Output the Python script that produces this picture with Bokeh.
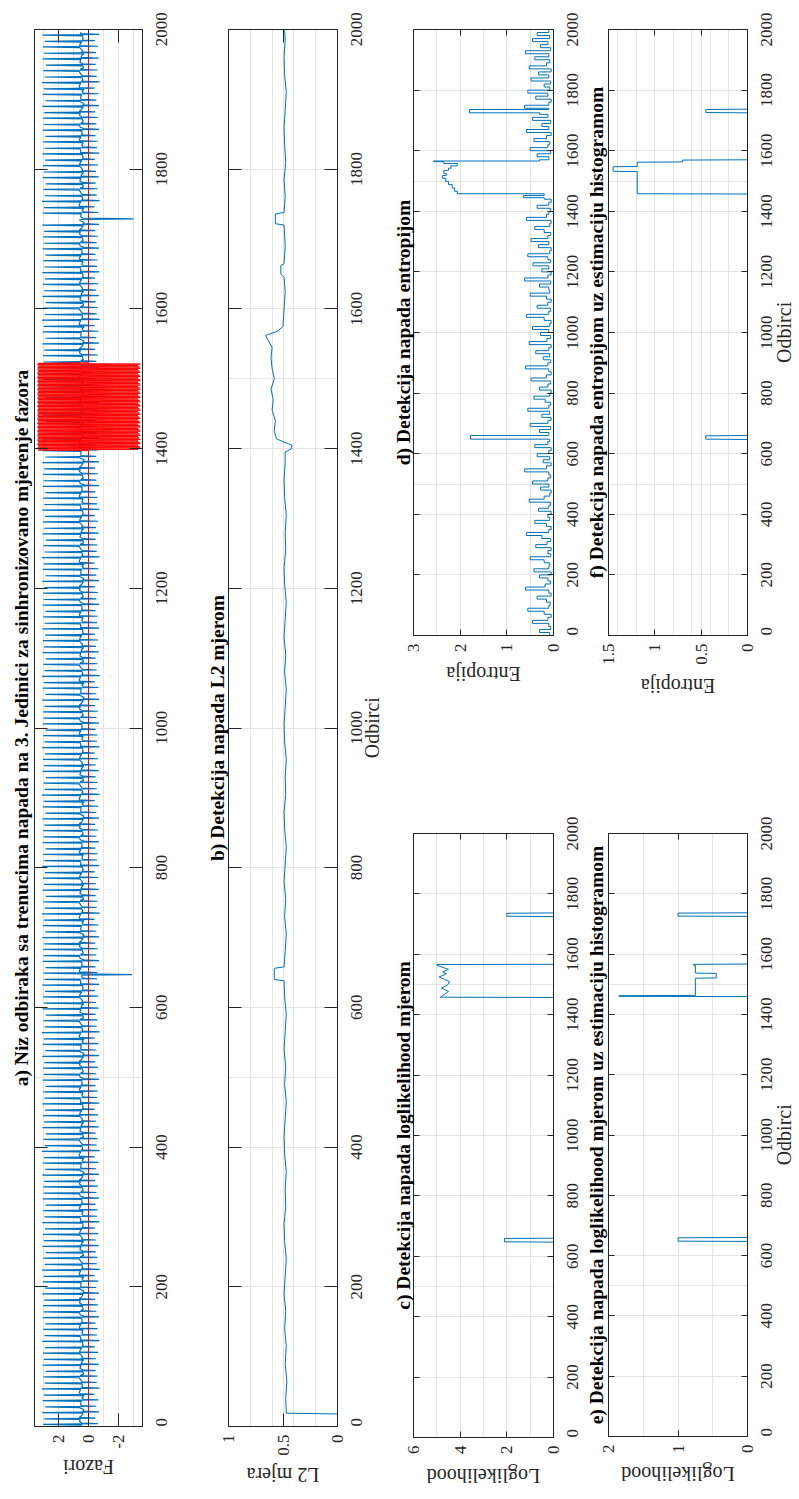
import math
from bokeh.plotting import figure
from bokeh.models import Range1d, LinearAxis, FixedTicker, Grid, Title
from bokeh.layouts import row, column
from bokeh.embed import file_html
from bokeh.resources import INLINE

SERIF = "Liberation Serif"
BLUE = "#0072BD"
RED = "#FF0000"
AX = "#262626"
GRIDC = "#e3e3e3"
TICK_FS = 17
LAB_FS = 20

odbirci_ticks = [0, 200, 400, 600, 800, 1000, 1200, 1400, 1600, 1800, 2000]

# ---------------- a) phase samples ----------------
zub_vrh = [3.02, 2.95, 3.08, 2.88, 3.05, 2.98, 3.1, 2.92, 3.0, 2.85, 3.06, 2.97, 3.03, 2.9, 3.08, 2.94,
           3.01, 2.87, 3.05, 2.99]
zub_dno = [-0.62, -0.45, -0.7, -0.52, -0.66, -0.4, -0.74, -0.55, -0.6, -0.48, -0.68, -0.5, -0.64, -0.42,
           -0.72, -0.57, -0.6, -0.47, -0.7, -0.53]
zub_sred = [0.42, 0.55, 0.35, 0.6, 0.48, 0.3, 0.52, 0.44, 0.62, 0.38, 0.5, 0.33, 0.58, 0.46, 0.4, 0.56,
            0.36, 0.5, 0.45, 0.6]
zub_period = [8, 9]
skok_odbirci = [647, 1729]
skok_vrijednost = [-2.9, -3.0]
napad_pocetak, napad_kraj = 1398, 1522
napad_vrh = [3.35, 3.28, 3.4, 3.3, 3.38, 3.25]
napad_dno = [-3.42, -3.3, -3.38, -3.45, -3.32, -3.4]

# ---------------- b) L2 measure ----------------
l2_x = [0, 18, 19, 40, 65, 90, 115, 140, 165, 190,
        215, 240, 265, 290, 315, 340, 365, 390, 415, 440,
        465, 490, 515, 540, 565, 590, 615, 638, 640, 656,
        658, 680, 705, 730, 755, 780, 805, 830, 855, 880,
        905, 930, 955, 980, 1005, 1030, 1055, 1080, 1105, 1130,
        1155, 1180, 1205, 1230, 1255, 1280, 1305, 1330, 1355, 1380,
        1395, 1400, 1405, 1410, 1414, 1425, 1440, 1455, 1470, 1485,
        1500, 1515, 1530, 1545, 1556, 1562, 1568, 1575, 1600, 1625,
        1645, 1650, 1662, 1665, 1690, 1720, 1722, 1736, 1738, 1760,
        1785, 1810, 1835, 1860, 1885, 1910, 1935, 1960, 1985, 2000]
l2_y = [0, 0, 0.47, 0.475, 0.465, 0.48, 0.47, 0.485, 0.475, 0.49,
        0.48, 0.47, 0.485, 0.49, 0.475, 0.48, 0.47, 0.485, 0.49, 0.48,
        0.47, 0.485, 0.475, 0.49, 0.48, 0.47, 0.485, 0.49, 0.58, 0.58,
        0.49, 0.48, 0.47, 0.485, 0.475, 0.49, 0.48, 0.47, 0.485, 0.49,
        0.475, 0.48, 0.47, 0.485, 0.49, 0.48, 0.47, 0.485, 0.475, 0.49,
        0.48, 0.47, 0.485, 0.49, 0.475, 0.48, 0.47, 0.485, 0.49, 0.48,
        0.48, 0.42, 0.42, 0.5, 0.56, 0.58, 0.57, 0.6, 0.59, 0.61,
        0.58, 0.6, 0.61, 0.6, 0.64, 0.66, 0.55, 0.5, 0.49, 0.48,
        0.49, 0.52, 0.52, 0.49, 0.48, 0.49, 0.57, 0.57, 0.49, 0.48,
        0.49, 0.475, 0.485, 0.49, 0.48, 0.47, 0.485, 0.49, 0.48, 0.485]

# ---------------- c) loglikelihood ----------------
c_x = [0, 647, 648, 659, 660, 1457, 1458, 1466, 1477, 1488, 1498, 1509, 1518, 1525, 1535, 1542, 1550,
       1558, 1564, 1566, 1567, 1725, 1726, 1736, 1737, 2000]
c_y = [0, 0, 2.1, 2.1, 0, 0, 4.85, 4.7, 4.5, 4.8, 4.55, 4.45, 4.7, 4.9, 4.6, 4.75, 4.5, 4.8, 5.0, 5.0,
       0, 0, 2.0, 2.0, 0, 0]

# ---------------- d) entropy (value held over each 10-sample step) ----------------
d_sum_1 = [0.08, 0.30, 0.06, 0.10, 0.45, 0.12, 0.05, 0.20, 0.55, 0.10,
           0.07, 0.15, 0.35, 0.05, 0.10, 0.60, 0.18, 0.06, 0.12, 0.30,
           0.05, 0.42, 0.10, 0.08, 0.20, 0.50, 0.06, 0.12, 0.05, 0.38,
           0.14, 0.06, 0.25, 0.58, 0.10, 0.05, 0.15, 0.40, 0.08, 0.12,
           0.05, 0.32, 0.10, 0.06, 0.52, 0.20, 0.08, 0.05, 0.28, 0.10,
           0.45, 0.12, 0.06, 0.10, 0.62, 0.15, 0.05, 0.22, 0.08, 0.35,
           0.10, 0.05, 0.40, 0.12, 0.08, 0.10, 0.10, 0.30, 0.06, 0.50,
           0.12, 0.05, 0.25, 0.08, 0.55, 0.10, 0.06, 0.18, 0.42, 0.08,
           0.05, 0.30, 0.12, 0.06, 0.48, 0.15, 0.05, 0.10, 0.60, 0.12,
           0.06, 0.22, 0.08, 0.38, 0.10, 0.05, 0.52, 0.14, 0.06, 0.28,
           0.10, 0.45, 0.08, 0.05, 0.20, 0.58, 0.10, 0.06, 0.35, 0.12,
           0.05, 0.15, 0.50, 0.08, 0.10, 0.30, 0.06, 0.62, 0.12, 0.05,
           0.25, 0.10, 0.44, 0.06, 0.12, 0.55, 0.08, 0.05, 0.32, 0.10,
           0.48, 0.12, 0.06, 0.20, 0.40, 0.08, 0.05, 0.58, 0.15, 0.10,
           0.06, 0.35, 0.10, 0.05, 0.20]
d_sum_2 = [0.10, 0.35, 0.06, 0.50, 0.12, 0.08, 0.42, 0.15, 0.05, 0.58,
           0.10, 0.25, 0.06, 0.45, 0.12, 0.30, 0.08, 0.62, 0.10, 0.05,
           0.38, 0.12, 0.55, 0.08, 0.20, 0.06, 0.48, 0.10, 0.32, 0.05,
           0.52, 0.15, 0.08, 0.40, 0.10, 0.60, 0.06, 0.28, 0.12, 0.45,
           0.08, 0.35, 0.10, 0.50]
d_blok_x = [1445, 1452, 1458, 1466, 1477, 1488, 1498, 1509, 1518, 1525, 1535, 1542, 1550, 1558, 1564, 1566]
d_blok_y = [0.64, 0.2, 2.06, 2.12, 2.17, 2.25, 2.31, 2.38, 2.3, 2.35, 2.25, 2.2, 2.06, 2.35, 2.57, 0.3]
d_skok = [(648, 660, 1.78), (1725, 1736, 1.8)]

# ---------------- e) loglikelihood with histogram ----------------
e_x = [0, 647, 648, 659, 660, 1459, 1460, 1462, 1463, 1520, 1521, 1536, 1537, 1563, 1564, 1566, 1567,
       1725, 1726, 1736, 1737, 2000]
e_y = [0, 0, 1, 1, 0, 0, 1.85, 1.85, 0.75, 0.75, 0.45, 0.45, 0.75, 0.75, 0.78, 0.78, 0, 0, 1, 1, 0, 0]

# ---------------- f) entropy with histogram ----------------
f_x = [0, 647, 648, 659, 660, 1457, 1458, 1531, 1532, 1547, 1548, 1562, 1563, 1569, 1570, 1725, 1726,
       1736, 1737, 2000]
f_y = [0, 0, 0.45, 0.45, 0, 0, 1.19, 1.19, 1.45, 1.45, 1.19, 1.19, 0.7, 0.7, 0, 0, 0.45, 0.45, 0, 0]

# ---------- assemble phase series from the read tooth values ----------
faza = []
s, k = 2, 0
while s < 1996:
    n = len(zub_vrh)
    faza += [(s, zub_sred[k % n]), (s + 1, zub_vrh[k % n]), (s + 2, zub_dno[k % n]),
             (s + 3, zub_sred[(k + 7) % n]), (s + 5, zub_sred[(k + 3) % n])]
    s += zub_period[k % 2]
    k += 1
for so, sv in zip(skok_odbirci, skok_vrijednost):
    faza = [p for p in faza if not (so - 1 <= p[0] <= so + 1)]
    faza += [(so - 1, 0.45), (so, sv), (so + 1, 0.4)]
faza.sort()
faza_x = [p[0] for p in faza]
faza_y = [p[1] for p in faza]

napad_x = [0, napad_pocetak - 1]
napad_y = [0.0, 0.0]
for j in range(napad_pocetak, napad_kraj + 1):
    napad_x.append(j)
    napad_y.append(napad_vrh[j % 6] if j % 2 == 0 else napad_dno[j % 6])
napad_x += [napad_kraj + 1, 2000]
napad_y += [0.0, 0.0]

# ---------- assemble entropy steps ----------
d_pts = [(i * 10, v) for i, v in enumerate(d_sum_1)]
d_pts += list(zip(d_blok_x, d_blok_y))
d_pts += [(1570 + i * 10, v) for i, v in enumerate(d_sum_2)]
for a0, a1, av in d_skok:
    after = [p for p in d_pts if p[0] <= a1][-1][1]
    d_pts = [p for p in d_pts if not (a0 <= p[0] <= a1)]
    d_pts += [(a0, av), (a1, after)]
d_pts.sort()
d_x, d_y = [], []
for i, (sx_, v) in enumerate(d_pts):
    nxt = d_pts[i + 1][0] if i + 1 < len(d_pts) else 2000
    d_x += [sx_, nxt]
    d_y += [v, v]

# Times / Liberation Serif advance widths (em)
W = {'0': .5, '1': .5, '2': .5, '3': .5, '4': .5, '5': .5, '6': .5, '7': .5, '8': .5, '9': .5,
     '.': .25, '-': .333, ' ': .25, 'F': .556, 'a': .444, 'z': .444, 'o': .5, 'r': .333, 'i': .278,
     'L': .611, 'm': .778, 'j': .278, 'e': .444, 'g': .5, 'l': .278, 'k': .5, 'h': .5, 'd': .5,
     'E': .611, 'n': .5, 't': .278, 'p': .5, 'O': .722, 'b': .5, 'c': .444}


def tw(txt, fs):
    return sum(W.get(ch, .5) for ch in txt) * fs


def lab(v):
    return str(int(v)) if float(v).is_integer() else str(v)


def panel(fx0, fx1, fy0, fy1, L, R, T, B, xr, vticks, title, t_st, vlabel, v_st, slabel, s_st,
          tick_len, grid, margin):
    fw, fh = fx1 - fx0, fy1 - fy0
    p = figure(width=L + fw + R, height=T + fh + B, output_backend="svg", toolbar_location=None,
               x_range=Range1d(*xr), y_range=Range1d(0, 2000),
               x_axis_location=None, y_axis_location=None,
               min_border_left=L, min_border_right=R, min_border_top=T, min_border_bottom=B,
               margin=margin)
    p.outline_line_color = AX
    p.outline_line_width = 1
    p.border_fill_color = None
    p.background_fill_color = "white"
    pps = fh / 2000.0

    def ticks_only(ax):
        ax.axis_line_color = AX
        ax.major_tick_line_color = AX
        ax.major_tick_in = tick_len
        ax.major_tick_out = 0
        ax.minor_tick_line_color = None
        ax.major_label_text_color = None
        ax.major_label_standoff = 0

    def labels_only(ax, fs, orient, standoff):
        ax.axis_line_color = None
        ax.major_tick_line_color = None
        ax.major_tick_in = 0
        ax.major_tick_out = 0
        ax.minor_tick_line_color = None
        ax.major_label_text_font = SERIF
        ax.major_label_text_font_size = f"{fs}px"
        ax.major_label_text_color = AX
        ax.major_label_orientation = orient
        ax.major_label_standoff = standoff

    vt = FixedTicker(ticks=vticks)
    st = FixedTicker(ticks=odbirci_ticks)

    # below: value ticks + labels, then the value-axis name
    xb = LinearAxis(ticker=vt, major_label_overrides={v: lab(v) for v in vticks})
    xb.axis_line_color = AX
    xb.major_tick_line_color = AX
    xb.major_tick_in = tick_len
    xb.major_tick_out = 0
    xb.minor_tick_line_color = None
    xb.major_label_text_font = SERIF
    xb.major_label_text_font_size = f"{TICK_FS}px"
    xb.major_label_text_color = AX
    xb.major_label_orientation = math.pi / 2
    xb.major_label_standoff = 8
    p.add_layout(xb, "below")
    vpos = round(xr[0] + ((fw / 2 - tw(vlabel, LAB_FS) / 2) / fw) * (xr[1] - xr[0]), 5)
    xn = LinearAxis(ticker=FixedTicker(ticks=[vpos]), major_label_overrides={vpos: vlabel})
    labels_only(xn, LAB_FS, math.pi, v_st)
    p.add_layout(xn, "below")

    xa = LinearAxis(ticker=vt)
    ticks_only(xa)
    p.add_layout(xa, "above")

    # right: tick marks, centred sample labels, then the sample-axis name
    yr_ = LinearAxis(ticker=st)
    ticks_only(yr_)
    p.add_layout(yr_, "right")
    pos, ov = [], {}
    for t in odbirci_ticks:
        q = round(max(0.0, t - (tw(str(t), TICK_FS) / 2) / pps), 5)
        pos.append(q)
        ov[q] = str(t)
    ylab = LinearAxis(ticker=FixedTicker(ticks=pos), major_label_overrides=ov)
    labels_only(ylab, TICK_FS, math.pi / 2, 19)
    p.add_layout(ylab, "right")
    if slabel:
        q = round(1000 - (tw(slabel, LAB_FS) / 2) / pps, 5)
        yn = LinearAxis(ticker=FixedTicker(ticks=[q]), major_label_overrides={q: slabel})
        labels_only(yn, LAB_FS, math.pi / 2, s_st)
        p.add_layout(yn, "right")

    yl = LinearAxis(ticker=st)
    ticks_only(yl)
    p.add_layout(yl, "left")

    if grid:
        p.add_layout(Grid(dimension=0, ticker=vt, grid_line_color=GRIDC))
        p.add_layout(Grid(dimension=1, ticker=st, grid_line_color=GRIDC))
    p.add_layout(Title(text=title, align="center", text_font=SERIF, text_font_size="19.5px",
                       text_font_style="bold", text_color="black", standoff=t_st), "left")
    return p


pa = panel(34, 142, 29, 1440, 34, 45, 29, 62, (3.6, -3.6), [-2, 0, 2],
           "a) Niz odbiraka sa trenucima napada na 3. Jedinici za sinhronizovano mjerenje fazora", 6,
           "Fazori", 15, None, 0, 13, False, (0, 0, -3, 0))
pa.line(faza_y, faza_x, line_color=BLUE, line_width=1.2)
pa.line(napad_y, napad_x, line_color=RED, line_width=1)

pb = panel(228, 337, 29, 1440, 40, 66, 29, 70, (1.0, 0.0), [0, 0.5, 1],
           "b) Detekcija napada L2 mjerom", 2, "L2 mjera", 16, "Odbirci", 2, 13, True, (0, 0, -11, 1))
pb.line(l2_y, l2_x, line_color=BLUE, line_width=1)

pd = panel(413, 553, 29, 638, 25, 42, 29, 60, (3.0, 0.0), [0, 1, 2, 3],
           "d) Detekcija napada entropijom", 0, "Entropija", 18, None, 0, 6, True, None)
pd.line(d_y, d_x, line_color=BLUE, line_width=1)

pc = panel(413, 553, 833, 1440, 25, 42, 40, 60, (6.0, 0.0), [0, 2, 4, 6],
           "c) Detekcija napada loglikelihood mjerom", 0, "Loglikelihood", 18, None, 0, 6, True,
           (95, 0, -1, 0))
pc.line(c_y, c_x, line_color=BLUE, line_width=1)

pf = panel(608, 747, 29, 638, 30, 66, 29, 72, (1.5, 0.0), [0, 0.5, 1, 1.5],
           "f) Detekcija napada entropijom uz estimaciju histogramom", 3, "Entropija", 18, "Odbirci", 4,
           6, True, None)
pf.line(f_y, f_x, line_color=BLUE, line_width=1)

pe = panel(608, 747, 833, 1440, 30, 66, 40, 58, (2.0, 0.0), [0, 1, 2],
           "e) Detekcija napada loglikelihood mjerom uz estimaciju histogramom", 3, "Loglikelihood", 17,
           "Odbirci", 4, 6, True, (83, 0, 0, 0))
pe.line(e_y, e_x, line_color=BLUE, line_width=1)

col_cd = column(pd, pc, margin=(0, 0, 0, -15))
col_ef = column(pf, pe, margin=(0, -14, 0, -17))
layout = row(pa, pb, col_cd, col_ef, styles={"overflow": "hidden", "width": "799px", "height": "1499px"})
open("out.html", "w").write(file_html(layout, INLINE))
